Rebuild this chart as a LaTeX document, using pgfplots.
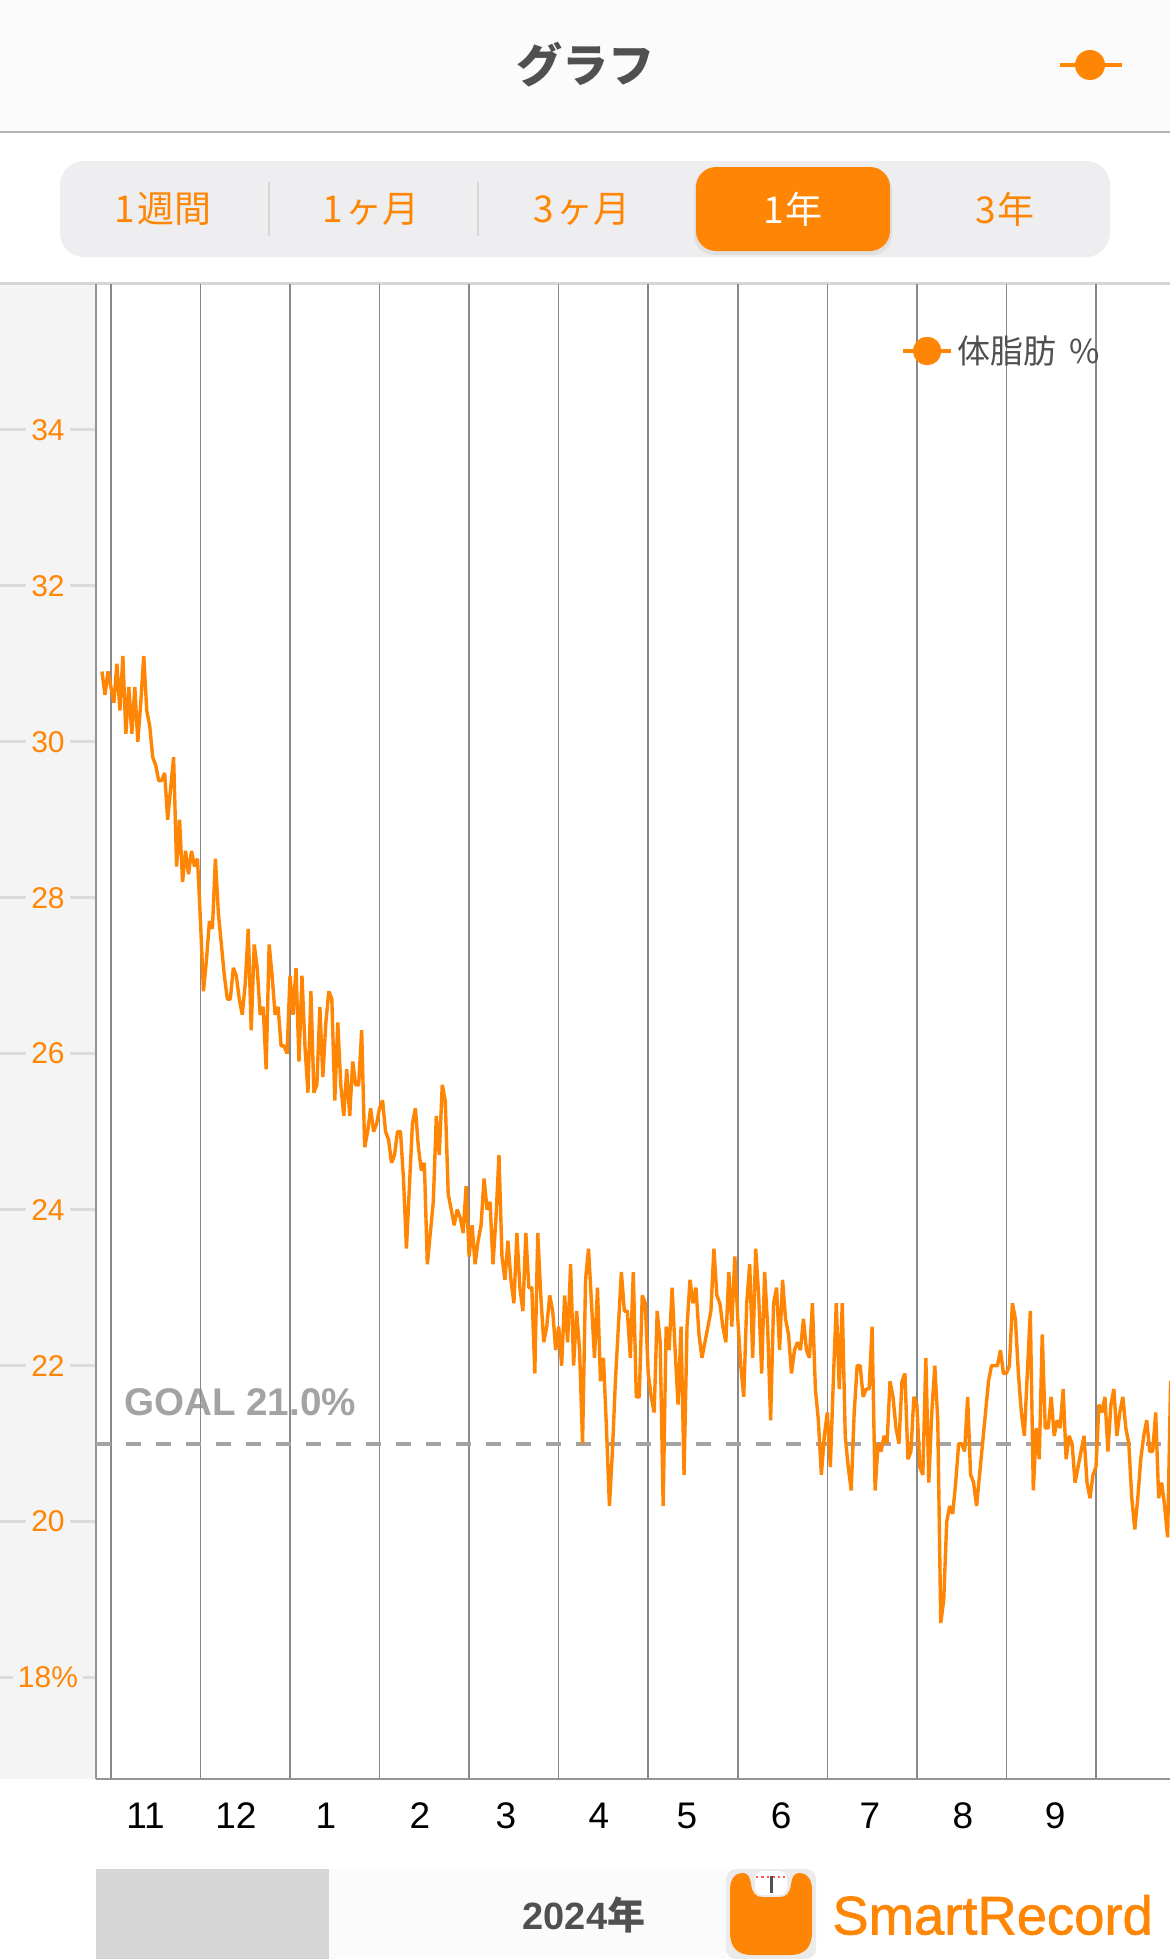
\documentclass[border=0pt]{standalone}
\usepackage{fontspec}
\setmainfont{Liberation Sans}
\newfontfamily\cjk{Noto Sans CJK JP}
\usepackage{pgfplots}
\pgfplotsset{compat=1.18}
\definecolor{sr}{HTML}{FF8605}
\definecolor{txt}{HTML}{505050}
\definecolor{panel}{HTML}{F4F4F4}
\definecolor{seg}{HTML}{EEEEF0}
\definecolor{gridc}{HTML}{88888C}
\definecolor{goalc}{HTML}{A3A3A3}
\definecolor{barbg}{HTML}{FBFBFB}
\newcommand{\fs}[1]{\fontsize{#1}{#1}\selectfont}
\begin{document}
\begin{tikzpicture}
\fill[white] (0,0) rectangle (585pt,-979.5pt);
\path[use as bounding box] (0,0) rectangle (585pt,-979.5pt);
\begin{scope}[x=0.5pt,y=-0.5pt]
% header
\fill[barbg] (0,0) rectangle (1170,132);
\fill[black!30] (0,131) rectangle (1170,133);
\node[text=txt] at (585,65) {\cjk\bfseries\fs{23}グラフ};
\draw[sr,line width=2pt] (1060,65)--(1122,65);
\fill[sr] (1090,65) circle [radius=7.5pt];
% segmented control
\fill[seg,rounded corners=12pt] (60,161) rectangle (1110,257);
\fill[black!12,rounded corners=10pt] (694,170) rectangle (892,255);
\fill[sr,rounded corners=10pt] (696,167) rectangle (890,251);
\fill[black!16] (268,182) rectangle (270,236);
\fill[black!16] (477,182) rectangle (479,236);
\node[text=sr] at (163,209) {\cjk\fs{18.5}1\hspace{1pt}週間};
\node[text=sr] at (371,209) {\cjk\fs{18.5}1\hspace{1.5pt}ヶ月};
\node[text=sr] at (582,209) {\cjk\fs{18.5}3\hspace{1.5pt}ヶ月};
\node[text=white] at (793,209) {\cjk\fs{18.5}1\hspace{1pt}年};
\node[text=sr] at (1005,209) {\cjk\fs{18.5}3\hspace{1pt}年};
% chart panel
\fill[panel] (0,284) rectangle (96,1779);
\fill[black!16] (0,282) rectangle (1170,285);
\node[text=goalc,anchor=center] at (240,1402) {\fs{19.3}\bfseries GOAL 21.0\%};
% footer
\fill[black!16] (96,1869) rectangle (329,1959);
\fill[barbg] (329,1869) rectangle (726,1959);
\node[text=txt] at (584,1915) {\fs{19}\bfseries 2024\cjk 年};
\fill[black!8,rounded corners=5pt] (726,1869) rectangle (816,1959);
\fill[sr] (730,1890) .. controls (730,1878) and (736,1873) .. (742,1873)
  .. controls (749,1873) and (750,1878) .. (751,1884)
  .. controls (752,1893) and (756,1897) .. (762,1897) -- (780,1897)
  .. controls (786,1897) and (790,1893) .. (791,1884)
  .. controls (792,1878) and (793,1873) .. (800,1873)
  .. controls (806,1873) and (812,1878) .. (812,1890) -- (812,1932)
  .. controls (812,1948) and (804,1955) .. (790,1955) -- (752,1955)
  .. controls (738,1955) and (730,1948) .. (730,1932) -- cycle;
\fill[white,rounded corners=4pt] (755,1871) rectangle (787,1895);
\draw[red!65,line width=1pt,dash pattern=on 1.2pt off 1.5pt] (756,1876.5)--(788,1876.5);
\fill[txt] (770,1876) rectangle (772.5,1893);
\node[text=sr,anchor=west,inner sep=0pt] at (832,1915) {\fs{27.2}\addfontfeature{FakeBold=1.2}SmartRecord};
\end{scope}
\begin{axis}[
  at={(48pt,-889.5pt)},anchor=south west,
  width=537pt,height=747.5pt,scale only axis,
  xmin=-2,xmax=357.8,ymin=16.70,ymax=35.868,
  axis x line=bottom,axis y line=left,
  axis line style={-,draw=black!42,line width=1pt},
  tick align=outside,major tick length=48pt,
  xtick={3,33,63,93,123,153,183,213,243,273,303,333},
  xticklabels={},
  xtick style={draw=none},
  xmajorgrids=true,
  grid style={draw=gridc,line width=0.75pt},
  extra x ticks={14.6,44.9,75,106.5,135.3,166.5,196,227.5,257.3,288.4,319.3},
  extra x tick labels={11,12,1,2,3,4,5,6,7,8,9},
  extra x tick style={grid=none,xticklabel style={font=\fs{18.5},text=black,anchor=center,yshift=29.5pt}},
  ytick={18,20,22,24,26,28,30,32,34},
  yticklabels={18\%,20,22,24,26,28,30,32,34},
  ytick style={draw=black!14,line width=1.3pt},
  yticklabel style={font=\fs{15},text=sr,anchor=center,xshift=24pt,fill=panel,inner xsep=2.5pt,inner ysep=1pt},
  legend style={at={(0.7493,0.9552)},anchor=west,draw=none,fill=none,inner sep=0pt,font=\cjk\fs{16.5},text=txt,
    /tikz/every even column/.append style={column sep=-1.6pt}},
]
\addplot[forget plot,goalc,line width=2pt,dash pattern=on 7.5pt off 7.5pt] coordinates {(-2,21)(357.8,21)};
\addplot[sr,line width=1.7pt,line join=bevel,
  legend image code/.code={\draw[sr,line width=2pt] (0,0)--(24pt,0);\fill[sr] (12pt,0) circle (6.25pt);}]
coordinates {
(0,30.9)(1,30.6)(2,30.9)(3,30.7)(4,30.5)(5,31.0)(6,30.4)(7,31.1)(8,30.1)(9,30.7)
(10,30.1)(11,30.7)(12,30.0)(13,30.5)(14,31.1)(15,30.4)(16,30.2)(17,29.8)(18,29.7)(19,29.5)
(20,29.5)(21,29.6)(22,29.0)(23,29.4)(24,29.8)(25,28.4)(26,29.0)(27,28.2)(28,28.6)(29,28.3)
(30,28.6)(31,28.4)(32,28.5)(33,27.7)(34,26.8)(35,27.2)(36,27.7)(37,27.6)(38,28.5)(39,27.8)
(40,27.4)(41,27.0)(42,26.7)(43,26.7)(44,27.1)(45,27.0)(46,26.7)(47,26.5)(48,26.9)(49,27.6)
(50,26.3)(51,27.4)(52,27.1)(53,26.5)(54,26.6)(55,25.8)(56,27.4)(57,27.0)(58,26.5)(59,26.6)
(60,26.1)(61,26.1)(62,26.0)(63,27.0)(64,26.5)(65,27.1)(66,25.9)(67,27.0)(68,26.1)(69,25.5)
(70,26.8)(71,25.5)(72,25.6)(73,26.6)(74,25.7)(75,26.4)(76,26.8)(77,26.7)(78,25.4)(79,26.4)
(80,25.6)(81,25.2)(82,25.8)(83,25.2)(84,25.9)(85,25.6)(86,25.6)(87,26.3)(88,24.8)(89,25.0)
(90,25.3)(91,25.0)(92,25.1)(93,25.3)(94,25.4)(95,25.0)(96,24.9)(97,24.6)(98,24.7)(99,25.0)
(100,25.0)(101,24.4)(102,23.5)(103,24.3)(104,25.1)(105,25.3)(106,24.8)(107,24.5)(108,24.6)(109,23.3)
(110,23.7)(111,24.1)(112,25.2)(113,24.7)(114,25.6)(115,25.4)(116,24.2)(117,24.0)(118,23.8)(119,24.0)
(120,23.9)(121,23.7)(122,24.3)(123,23.4)(124,23.8)(125,23.3)(126,23.6)(127,23.8)(128,24.4)(129,24.0)
(130,24.1)(131,23.3)(132,23.9)(133,24.7)(134,23.4)(135,23.1)(136,23.6)(137,23.1)(138,22.8)(139,23.7)
(140,23.0)(141,22.7)(142,23.7)(143,23.0)(144,23.0)(145,21.9)(146,23.7)(147,22.9)(148,22.3)(149,22.5)
(150,22.9)(151,22.7)(152,22.2)(153,22.5)(154,22.0)(155,22.9)(156,22.3)(157,23.3)(158,22.0)(159,22.7)
(160,22.2)(161,21.0)(162,23.1)(163,23.5)(164,22.8)(165,22.1)(166,23.0)(167,21.8)(168,22.1)(169,21.2)
(170,20.2)(171,20.9)(172,21.8)(173,22.5)(174,23.2)(175,22.7)(176,22.7)(177,22.1)(178,23.2)(179,21.6)
(180,21.6)(181,22.9)(182,22.8)(183,21.9)(184,21.6)(185,21.4)(186,22.7)(187,22.3)(188,20.2)(189,22.5)
(190,22.2)(191,23.0)(192,22.2)(193,21.5)(194,22.5)(195,20.6)(196,22.5)(197,23.1)(198,22.8)(199,23.0)
(200,22.4)(201,22.1)(202,22.3)(203,22.5)(204,22.7)(205,23.5)(206,22.9)(207,22.8)(208,22.5)(209,22.3)
(210,23.2)(211,22.5)(212,23.4)(213,22.6)(214,22.0)(215,21.6)(216,22.8)(217,23.3)(218,22.1)(219,23.5)
(220,22.9)(221,21.9)(222,23.2)(223,22.5)(224,21.3)(225,22.8)(226,23.0)(227,22.2)(228,23.1)(229,22.6)
(230,22.4)(231,21.9)(232,22.2)(233,22.3)(234,22.2)(235,22.6)(236,22.2)(237,22.1)(238,22.8)(239,21.7)
(240,21.3)(241,20.6)(242,21.1)(243,21.4)(244,20.7)(245,21.8)(246,22.8)(247,21.7)(248,22.8)(249,21.1)
(250,20.7)(251,20.4)(252,21.4)(253,22.0)(254,22.0)(255,21.6)(256,21.7)(257,21.7)(258,22.5)(259,20.4)
(260,21.0)(261,20.9)(262,21.1)(263,21.0)(264,21.8)(265,21.6)(266,21.2)(267,21.0)(268,21.8)(269,21.9)
(270,20.8)(271,20.9)(272,21.6)(273,21.5)(274,20.7)(275,20.6)(276,22.1)(277,20.5)(278,21.4)(279,22.0)
(280,21.3)(281,18.7)(282,19.0)(283,20.0)(284,20.2)(285,20.1)(286,20.5)(287,21.0)(288,21.0)(289,20.9)
(290,21.6)(291,20.6)(292,20.5)(293,20.2)(294,20.6)(295,21.0)(296,21.4)(297,21.8)(298,22.0)(299,22.0)
(300,22.0)(301,22.2)(302,21.9)(303,21.9)(304,22.0)(305,22.8)(306,22.6)(307,21.9)(308,21.4)(309,21.1)
(310,21.9)(311,22.7)(312,20.4)(313,21.2)(314,20.8)(315,22.4)(316,21.2)(317,21.2)(318,21.6)(319,21.1)
(320,21.3)(321,21.2)(322,21.7)(323,20.8)(324,21.1)(325,21.0)(326,20.5)(327,20.7)(328,20.9)(329,21.1)
(330,20.5)(331,20.3)(332,20.6)(333,20.7)(334,21.5)(335,21.4)(336,21.6)(337,20.9)(338,21.5)(339,21.7)
(340,21.1)(341,21.4)(342,21.6)(343,21.2)(344,21.0)(345,20.3)(346,19.9)(347,20.3)(348,20.8)(349,21.1)
(350,21.3)(351,20.9)(352,20.9)(353,21.4)(354,20.3)(355,20.5)(356,20.2)(357,19.8)(358,21.8)
};
\addlegendentry{体脂肪\hspace{3pt} \%}
\end{axis}
\end{tikzpicture}
\end{document}
